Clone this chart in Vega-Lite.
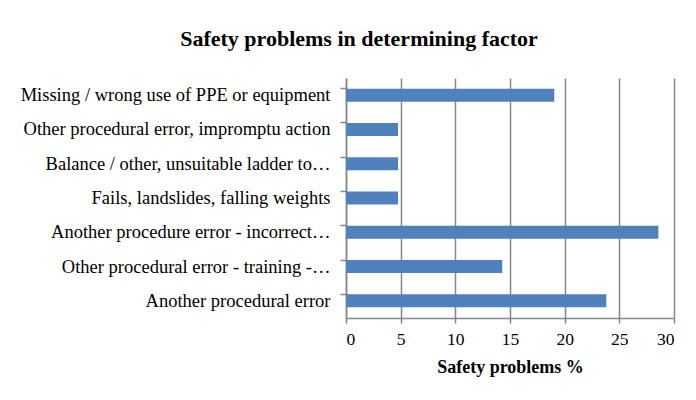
{
  "$schema": "https://vega.github.io/schema/vega-lite/v6.json",
  "autosize": {"type": "none"},
  "padding": {"left": 346, "top": 78, "right": 22, "bottom": 82},
  "width": 328,
  "height": 240,
  "background": "white",
  "title": {
    "text": "Safety problems in determining factor",
    "font": "Liberation Serif",
    "fontSize": 22,
    "fontWeight": "bold",
    "color": "#000000",
    "anchor": "middle",
    "frame": "group",
    "dx": -151,
    "offset": 27
  },
  "data": {
    "values": [
      {"factor": "Missing / wrong use of PPE or equipment", "pct": 19.05},
      {"factor": "Other procedural error, impromptu action", "pct": 4.76},
      {"factor": "Balance / other, unsuitable ladder to…", "pct": 4.76},
      {"factor": "Fails, landslides, falling weights", "pct": 4.76},
      {"factor": "Another procedure error - incorrect…", "pct": 28.57},
      {"factor": "Other procedural error - training -…", "pct": 14.29},
      {"factor": "Another procedural error", "pct": 23.81}
    ]
  },
  "mark": {"type": "bar", "color": "#4F81BD"},
  "encoding": {
    "y": {
      "field": "factor",
      "type": "nominal",
      "sort": null,
      "scale": {"paddingInner": 0.62, "paddingOuter": 0.31},
      "axis": {
        "title": null,
        "bandPosition": 0,
        "labelFont": "Liberation Serif",
        "labelFontSize": 18.5,
        "labelColor": "#000000",
        "labelPadding": 10,
        "labelLimit": 400,
        "tickColor": "#868686",
        "tickSize": 6,
        "tickWidth": 1.5,
        "domainColor": "#868686",
        "domainWidth": 1.5,
        "grid": false
      }
    },
    "x": {
      "field": "pct",
      "type": "quantitative",
      "scale": {"domain": [0, 30], "nice": false},
      "axis": {
        "title": "Safety problems %",
        "titleFont": "Liberation Serif",
        "titleFontSize": 18,
        "titleFontWeight": "bold",
        "titleColor": "#000000",
        "titlePadding": 11,
        "values": [0, 5, 10, 15, 20, 25, 30],
        "labelFont": "Liberation Serif",
        "labelFontSize": 17.5,
        "labelColor": "#000000",
        "labelPadding": 7,
        "tickColor": "#868686",
        "tickSize": 5,
        "tickWidth": 1.5,
        "domainColor": "#868686",
        "domainWidth": 1.5,
        "grid": true,
        "gridColor": "#868686",
        "gridWidth": 1.5
      }
    }
  },
  "config": {"view": {"stroke": null}}
}
